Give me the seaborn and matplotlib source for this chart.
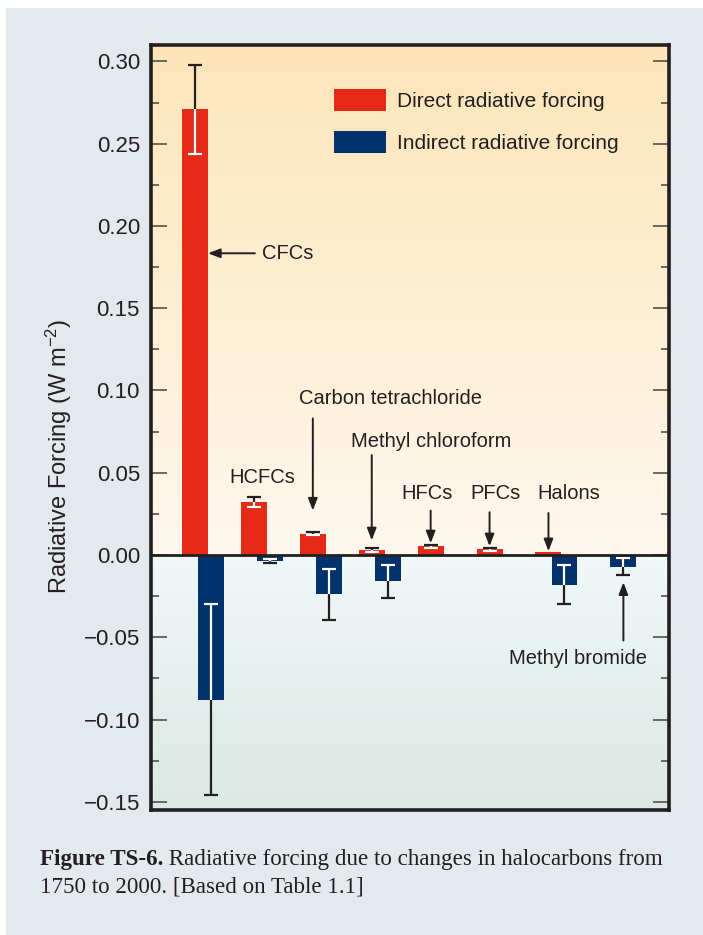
import numpy as np
import pandas as pd
import matplotlib
matplotlib.use("Agg")
import matplotlib.pyplot as plt
from matplotlib.patches import Rectangle, Patch
from matplotlib.colors import to_rgb
from matplotlib.ticker import MultipleLocator
import seaborn as sns

# Halocarbon radiative forcing, 1750-2000 (W m^-2)
categories = ["CFCs", "HCFCs", "Carbon tetrachloride", "Methyl chloroform",
              "HFCs", "PFCs", "Halons", "Methyl bromide"]
series = ["Direct radiative forcing", "Indirect radiative forcing"]
direct = [0.271, 0.032, 0.013, 0.003, 0.0052, 0.0035, 0.0017, 0.0]
direct_err = [0.027, 0.003, 0.001, 0.001, 0.001, 0.0008, 0.0, 0.0]
indirect = [-0.088, -0.0036, -0.024, -0.016, 0.0, 0.0, -0.018, -0.007]
indirect_err = [0.058, 0.001, 0.0155, 0.010, 0.0, 0.0, 0.012, 0.005]
yticks = [0.30, 0.25, 0.20, 0.15, 0.10, 0.05, 0.00, -0.05, -0.10, -0.15]

RED = "#e62a17"
BLUE = "#00326d"
INK = "#231f20"

sns.set_style("ticks")
plt.rcParams["font.family"] = ["Liberation Sans", "DejaVu Sans"]
plt.rcParams["mathtext.fontset"] = "custom"
plt.rcParams["mathtext.rm"] = "Liberation Sans"
plt.rcParams["mathtext.default"] = "regular"

fig = plt.figure(figsize=(7.03, 9.35), dpi=100)
fig.patch.set_facecolor("white")
fig.add_artist(Rectangle((6 / 703, 0), 1, 1 - 8 / 935, transform=fig.transFigure,
                         facecolor="#e4e9ed", edgecolor="none", zorder=-5))

ax = fig.add_axes([151 / 703, 1 - 810 / 935, 518 / 703, 765 / 935])
ymin, ymax = -0.155, 0.31

# vertical background wash: warm above zero, cool below
n = 600
yy = np.linspace(ymax, ymin, n)
top_c, zero_up = np.array(to_rgb("#fde5b8")), np.array(to_rgb("#fff8ee"))
zero_dn, bot_c = np.array(to_rgb("#f0f8f8")), np.array(to_rgb("#dbe8e4"))
grad = np.empty((n, 1, 3))
for k, y in enumerate(yy):
    if y >= 0:
        t = y / ymax
        grad[k, 0] = zero_up + (top_c - zero_up) * t
    else:
        t = y / ymin
        grad[k, 0] = zero_dn + (bot_c - zero_dn) * t
ax.imshow(grad, extent=[0, 1, 0, 1], transform=ax.transAxes, aspect="auto",
          interpolation="bilinear", zorder=0)

df = pd.DataFrame({
    "category": categories * 2,
    "series": [series[0]] * len(categories) + [series[1]] * len(categories),
    "value": direct + indirect,
})
sns.barplot(data=df, x="category", y="value", hue="series", order=categories,
            hue_order=series, palette=[RED, BLUE], saturation=1, width=0.544,
            gap=-0.62, dodge=True, errorbar=None, linewidth=0, legend=False,
            ax=ax, zorder=2)

# error bars: dark outside the bar, white where they cross the bar
centers = {}
for cont, vals, errs, name in zip(ax.containers, [direct, indirect],
                                  [direct_err, indirect_err], series):
    patches = sorted(cont.patches, key=lambda p: p.get_x())
    centers[name] = [(p.get_x() + p.get_width() / 2, p) for p in patches]
    for (cx, p), v, e in zip(centers[name], vals, errs):
        if e <= 0:
            continue
        ax.errorbar(cx, v, yerr=e, fmt="none", ecolor=INK, elinewidth=1.6,
                    capsize=5, capthick=1.6, zorder=4)
        eb = ax.errorbar(cx, v, yerr=e, fmt="none", ecolor="white", elinewidth=1.6,
                         capsize=5, capthick=1.6, zorder=5)
        for art in list(eb.lines[1]) + list(eb.lines[2]):
            art.set_clip_path(p)

ax.axhline(0, color=INK, lw=2, zorder=6)

ax.set_xlim(-0.883, 7.91)
ax.set_ylim(ymin, ymax)
ax.set_xlabel("")
ax.tick_params(axis="x", bottom=False, labelbottom=False)
ax.set_yticks(yticks)
ax.set_yticklabels([f"{v:.2f}".replace("-", "\u2212") for v in yticks])
ax.yaxis.set_minor_locator(MultipleLocator(0.025))
ax.tick_params(axis="y", which="both", direction="in", left=True, right=True,
               color="#444444", width=1.1, labelsize=16, labelcolor=INK, pad=8)
ax.tick_params(axis="y", which="major", length=11.5)
ax.tick_params(axis="y", which="minor", length=5.8)
for s in ax.spines.values():
    s.set_visible(True)
    s.set_linewidth(2.6)
    s.set_color(INK)
    s.set_zorder(7)

ax.set_ylabel(r"Radiative Forcing (W m$^{-2}$)", fontsize=17, color=INK)
ax.yaxis.set_label_coords(-0.148, 0.462)

ax.legend(handles=[Patch(facecolor=RED, edgecolor="none"),
                   Patch(facecolor=BLUE, edgecolor="none")], labels=series,
          loc="upper left", bbox_to_anchor=(0.353, 0.943), frameon=False,
          fontsize=15, handlelength=2.5, handleheight=1.25, labelspacing=0.98,
          handletextpad=0.55, borderpad=0, borderaxespad=0, labelcolor=INK)

# category labels and pointer arrows
arrow_kw = dict(arrowstyle="-|>,head_length=0.6,head_width=0.23", mutation_scale=12,
                lw=1.4, color=INK, shrinkA=0, shrinkB=0)
txt_kw = dict(fontsize=14.5, color=INK, zorder=8)

cfc_bar = centers[series[0]][0][1]
ax.annotate("", xy=(cfc_bar.get_x() + cfc_bar.get_width(), 0.1834),
            xytext=(0.88, 0.1834), arrowprops=arrow_kw, zorder=8)
ax.text(1.0, 0.1834, categories[0], ha="left", va="center", **txt_kw)
ax.text(1.0, 0.0472, categories[1], ha="center", va="center", **txt_kw)

labels_pos = {
    2: (3.19, 0.0953, 0.083, 0.027, 0),
    3: (3.87, 0.0691, 0.0607, 0.0089, 0),
    4: (3.80, 0.0375, 0.027, 0.0071, 0),
    5: (4.97, 0.0375, 0.026, 0.0053, 0),
    6: (6.20, 0.0375, 0.0255, 0.0023, 0),
    7: (6.37, -0.0628, -0.052, -0.0166, 1),
}
for i, (tx, ty, y0, y1, s_idx) in labels_pos.items():
    cx = centers[series[s_idx]][i][0]
    ax.annotate("", xy=(cx, y1), xytext=(cx, y0), arrowprops=arrow_kw, zorder=8)
    ax.text(tx, ty, categories[i], ha="center", va="center", **txt_kw)

# caption: bold figure number followed by regular text on the same baseline
cap_kw = dict(family=["Liberation Serif", "DejaVu Serif"], fontsize=16.6, color=INK)
head = fig.text(40 / 703, 1 - 865 / 935, "Figure TS-6.", fontweight="bold",
                ha="left", va="baseline", **cap_kw)
ax.annotate(" Radiative forcing due to changes in halocarbons from",
            xy=(1, 0), xycoords=head, xytext=(0, 0), textcoords="offset points",
            ha="left", va="bottom", annotation_clip=False, **cap_kw)
fig.text(40 / 703, 1 - 892.5 / 935, "1750 to 2000. [Based on Table 1.1]",
         ha="left", va="baseline", **cap_kw)

fig.savefig("out.png", dpi=100)
